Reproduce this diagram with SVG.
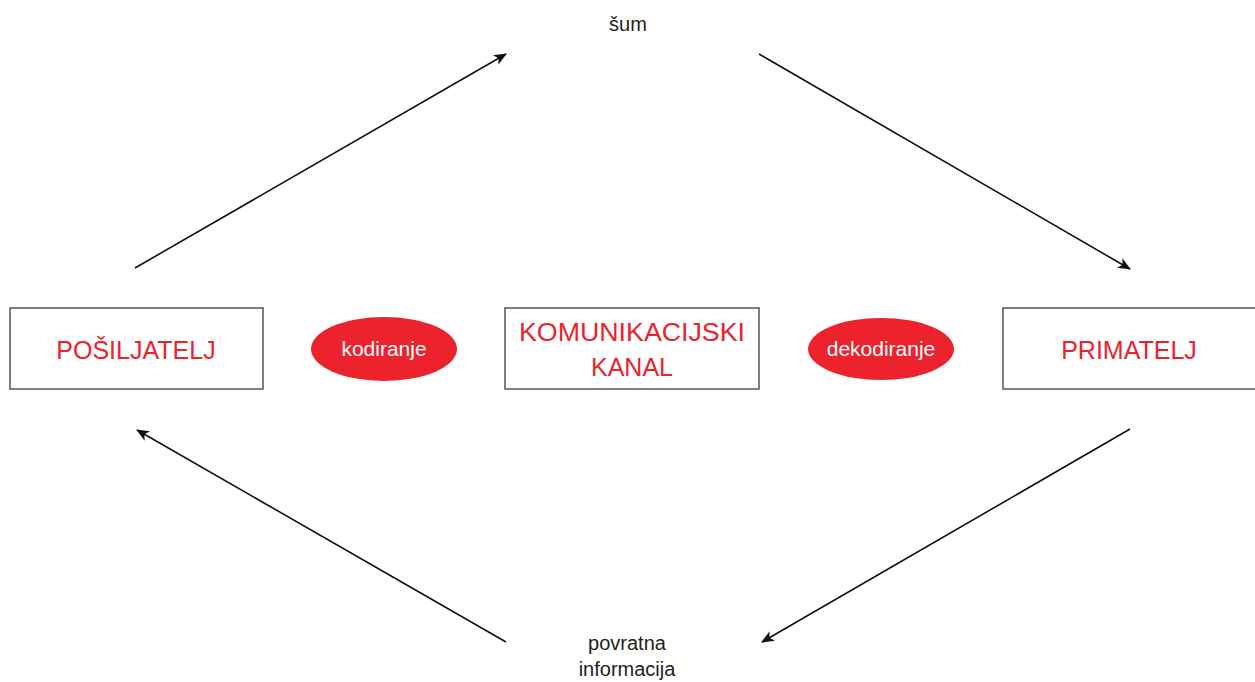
<svg xmlns="http://www.w3.org/2000/svg" width="1255" height="682" viewBox="0 0 1255 682">
<style>
.box{fill:#fff;stroke:#555;stroke-width:1.5}
.ell{fill:#ec222c}
.lbl{font-family:"Liberation Sans",Arial,sans-serif;font-size:25px;fill:#ec222c;text-anchor:middle}
.wl{font-family:"Liberation Sans",Arial,sans-serif;font-size:21px;fill:#fff;text-anchor:middle}
.bl{font-family:"Liberation Sans",Arial,sans-serif;font-size:20px;fill:#222;text-anchor:middle}
.con{stroke:#111;stroke-width:1.6;fill:none;marker-end:url(#ah)}
</style>
<defs>
<marker id="ah" viewBox="0 0 13 11" refX="12" refY="5.5" markerWidth="13" markerHeight="11" markerUnits="userSpaceOnUse" orient="auto">
<path d="M0,0 L13,5.5 L0,11 L3.5,5.5 Z" fill="#111"/>
</marker>
</defs>
<rect width="1255" height="682" fill="#fff"/>
<g id="connectors">
<line class="con" x1="135" y1="268" x2="506" y2="54"/>
<line class="con" x1="759" y1="54" x2="1130" y2="269"/>
<line class="con" x1="1130" y1="429" x2="762" y2="642"/>
<line class="con" x1="506" y1="642" x2="137" y2="430"/>
</g>
<g id="posiljatelj">
<rect class="box" x="10" y="308" width="253" height="81"/>
<text class="lbl" x="136" y="359">POŠILJATELJ</text>
</g>
<g id="kodiranje">
<ellipse class="ell" cx="384" cy="349" rx="73" ry="32"/>
<text class="wl" x="384" y="356">kodiranje</text>
</g>
<g id="kanal">
<rect class="box" x="505" y="308" width="254" height="81"/>
<text class="lbl" x="632" y="341" textLength="226" lengthAdjust="spacingAndGlyphs">KOMUNIKACIJSKI</text>
<text class="lbl" x="632" y="376">KANAL</text>
</g>
<g id="dekodiranje">
<ellipse class="ell" cx="881" cy="349" rx="73" ry="31"/>
<text class="wl" x="881" y="356">dekodiranje</text>
</g>
<g id="primatelj">
<rect class="box" x="1003" y="308" width="260" height="81"/>
<text class="lbl" x="1129" y="359">PRIMATELJ</text>
</g>
<g id="sum">
<text class="bl" x="628" y="31">šum</text>
</g>
<g id="povratna">
<text class="bl" x="627" y="650">povratna</text>
<text class="bl" x="627" y="676">informacija</text>
</g>
</svg>
